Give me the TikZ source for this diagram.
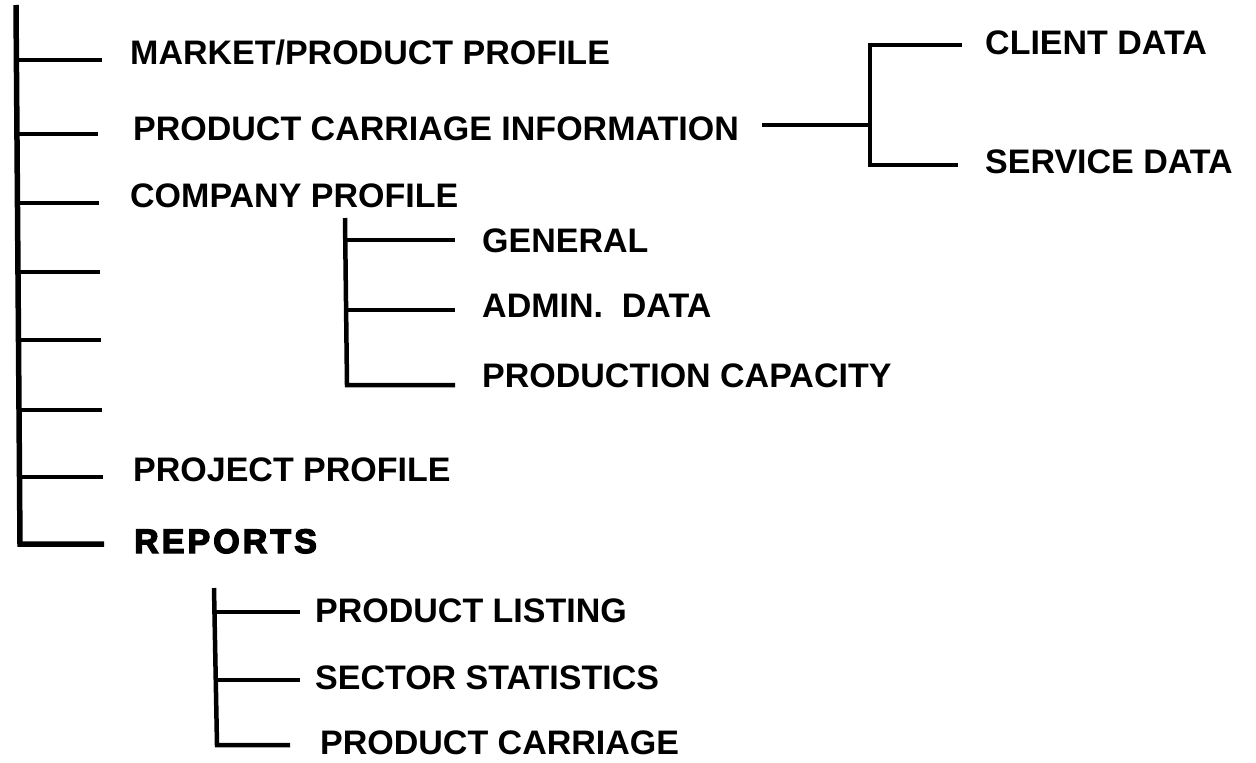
\documentclass[tikz,border=0pt]{standalone}
\usepackage{fontspec}
\setmainfont{Liberation Sans}
\newfontfamily\lbl{Liberation Sans Bold}
\newfontfamily\heavylbl[LetterSpace=9,FakeBold=4]{Liberation Sans Bold}
\begin{document}
\begin{tikzpicture}[x=1pt,y=-1pt,
  lab/.style={anchor=base west,inner sep=0pt,font=\lbl\fontsize{34}{40}\selectfont},
  heavylab/.style={anchor=base west,inner sep=0pt,font=\heavylbl\fontsize{34}{40}\selectfont},
  trunk/.style={line width=5.5pt,line join=miter},
  branch/.style={line width=4.5pt,line join=miter}]
\useasboundingbox (0,0) rectangle (1256,763);
% main trunk
\coordinate (top) at (16,5);
\coordinate (j1) at (16,60);   \coordinate (e1) at (102,60);
\coordinate (j2) at (16,134);  \coordinate (e2) at (98,134);
\coordinate (j3) at (17,203);  \coordinate (e3) at (99,203);
\coordinate (j4) at (18,272);  \coordinate (e4) at (100,272);
\coordinate (j5) at (18,340);  \coordinate (e5) at (101,340);
\coordinate (j6) at (19,410);  \coordinate (e6) at (102,410);
\coordinate (j7) at (20,477);  \coordinate (e7) at (103,477);
\coordinate (j8) at (20,544);  \coordinate (e8) at (104,544);
\draw[trunk] (top) -- (j8) -- (e8);
\foreach \i in {1,...,7}{\draw[branch] (j\i) -- (e\i);}
% main labels
\node[lab] (market) at (130,64) {MARKET/PRODUCT PROFILE};
\node[lab] (pci) at (133,140) {PRODUCT CARRIAGE INFORMATION};
\node[lab] (company) at (130,207) {COMPANY PROFILE};
\node[lab] (project) at (133,481) {PROJECT PROFILE};
\node[heavylab] (reports) at (134,553) {REPORTS};
% right bracket
\coordinate (c0) at (762,125);
\coordinate (cj) at (870,125);
\coordinate (ct) at (870,45);  \coordinate (cte) at (962,45);
\coordinate (cb) at (870,165); \coordinate (cbe) at (958,165);
\draw[branch] (c0) -- (cj);
\draw[branch] (cte) -- (ct) -- (cb) -- (cbe);
\node[lab] (client) at (985,54) {CLIENT DATA};
\node[lab] (service) at (985,173) {SERVICE DATA};
% company sub bracket
\coordinate (st) at (345,218);
\coordinate (s1) at (346,240); \coordinate (s1e) at (455,240);
\coordinate (s2) at (346,310); \coordinate (s2e) at (455,310);
\coordinate (s3) at (347,385); \coordinate (s3e) at (455,385);
\draw[branch] (st) -- (s3) -- (s3e);
\draw[branch] (s1) -- (s1e);
\draw[branch] (s2) -- (s2e);
\node[lab] (general) at (482,252) {GENERAL};
\node[lab] (admin) at (482,317) {ADMIN.\ \ DATA};
\node[lab] (prodcap) at (482,387) {PRODUCTION CAPACITY};
% reports sub bracket
\coordinate (rt) at (214,588);
\coordinate (r1) at (215,612); \coordinate (r1e) at (300,612);
\coordinate (r2) at (216,680); \coordinate (r2e) at (300,680);
\coordinate (r3) at (217,745); \coordinate (r3e) at (290,745);
\draw[branch] (rt) -- (r3) -- (r3e);
\draw[branch] (r1) -- (r1e);
\draw[branch] (r2) -- (r2e);
\node[lab] (listing) at (315,622) {PRODUCT LISTING};
\node[lab] (sector) at (315,689) {SECTOR STATISTICS};
\node[lab] (pcarr) at (320,754) {PRODUCT CARRIAGE};
\end{tikzpicture}
\end{document}
